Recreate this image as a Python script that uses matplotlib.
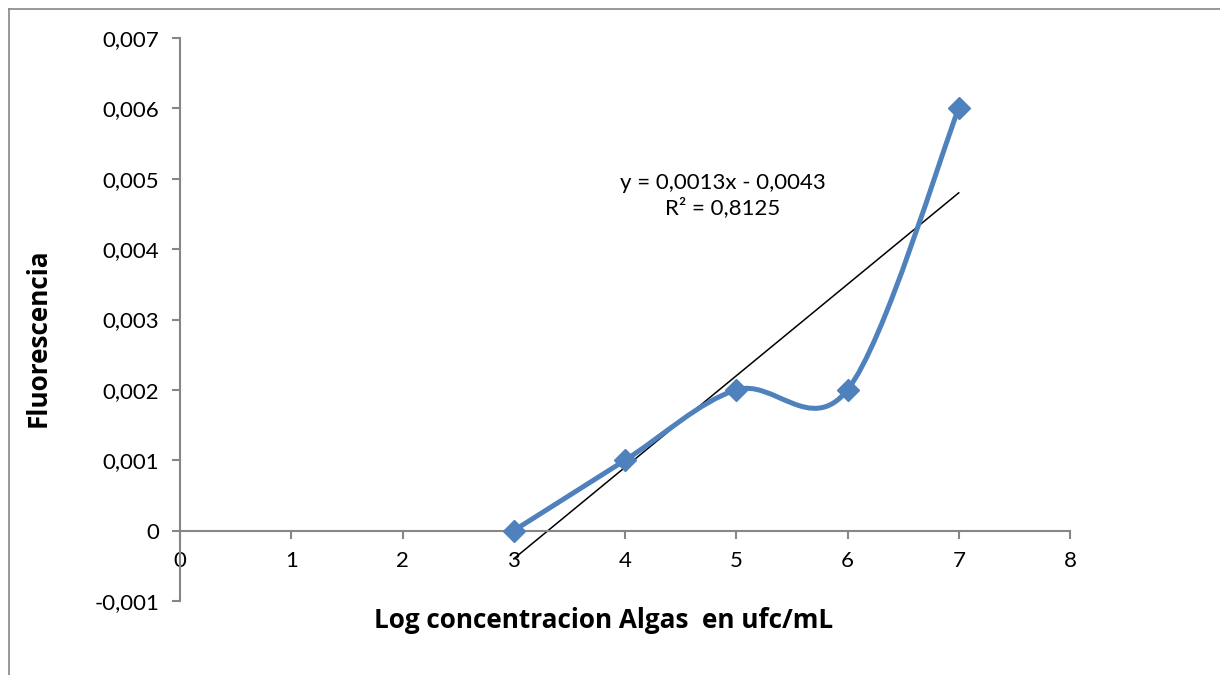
import matplotlib.pyplot as plt
import numpy as np
from matplotlib.path import Path
from matplotlib.patches import PathPatch
from matplotlib.lines import Line2D
from matplotlib.ticker import FuncFormatter

# data
log_conc = [3, 4, 5, 6, 7]
fluorescencia = [0, 0.001, 0.002, 0.002, 0.006]
slope = 0.0013
intercept = -0.0043
r2_text = 'R² = 0,8125'
eq_text = 'y = 0,0013x - 0,0043'
x_ticks = [0, 1, 2, 3, 4, 5, 6, 7, 8]
y_ticks = [-0.001, 0, 0.001, 0.002, 0.003, 0.004, 0.005, 0.006, 0.007]

BLUE = '#4F81BD'
GREY = '#868686'

plt.rcParams['font.family'] = ['Lato', 'DejaVu Sans']

fig = plt.figure(figsize=(12.2, 6.75), dpi=100)
ax = fig.add_axes([180 / 1220, 1 - 601 / 675, 890 / 1220, 563 / 675])
ax.set_xlim(0, 8)
ax.set_ylim(-0.001, 0.007)


def smooth_path(xs, ys):
    # excel-like smoothed line: catmull-rom bezier done in pixel space
    pts = ax.transData.transform(np.column_stack([xs, ys]))
    n = len(pts)
    verts = [pts[0]]
    codes = [Path.MOVETO]
    for i in range(n - 1):
        p0 = pts[max(i - 1, 0)]
        p1 = pts[i]
        p2 = pts[i + 1]
        p3 = pts[min(i + 2, n - 1)]
        c1 = p1 + (p2 - p0) / 6
        c2 = p2 - (p3 - p1) / 6
        verts += [c1, c2, p2]
        codes += [Path.CURVE4] * 3
    verts = ax.transData.inverted().transform(np.array(verts))
    return Path(verts, codes)


ax.add_patch(PathPatch(smooth_path(log_conc, fluorescencia), facecolor='none',
                       edgecolor=BLUE, lw=3.6, capstyle='round', joinstyle='round', zorder=3))
ax.plot(log_conc, fluorescencia, linestyle='none', marker='D', markersize=11,
        color=BLUE, zorder=4)

# linear trendline
tx = np.array([log_conc[0], log_conc[-1]])
ax.plot(tx, slope * tx + intercept, color='black', lw=1.1, zorder=2)
ax.text(4.88, 0.00476, eq_text + '\n' + r2_text, ha='center', va='center',
        multialignment='center', fontsize=16, linespacing=1.25)

ax.spines['top'].set_visible(False)
ax.spines['right'].set_visible(False)
ax.spines['bottom'].set_position(('data', 0))
for s in ('left', 'bottom'):
    ax.spines[s].set_color(GREY)
    ax.spines[s].set_linewidth(1.5)

ax.set_xticks(x_ticks)
ax.set_yticks(y_ticks)
ax.yaxis.set_major_formatter(FuncFormatter(lambda v, p: '0' if abs(v) < 1e-12 else f'{v:.3f}'.replace('.', ',')))
ax.tick_params(direction='out', length=6, width=1.5, color=GREY, labelsize=16, pad=9)

label_font = ['Open Sans', 'DejaVu Sans']
fig.text(38 / 1220, 1 - 338 / 675, 'Fluorescencia', rotation=90, ha='center', va='center',
         fontsize=18.8, fontweight='bold', family=label_font)
fig.text(604 / 1220, 1 - 620 / 675, 'Log concentracion Algas  en ufc/mL', ha='center', va='center',
         fontsize=18.8, fontweight='bold', family=label_font)

# chart frame (left and top edges visible in the crop)
fig.add_artist(Line2D([9 / 1220, 9 / 1220], [0, 1 - 9 / 675], transform=fig.transFigure,
                      color=GREY, lw=1.2))
fig.add_artist(Line2D([9 / 1220, 1], [1 - 9 / 675, 1 - 9 / 675], transform=fig.transFigure,
                      color=GREY, lw=1.2))

fig.savefig('out.png', dpi=100)
